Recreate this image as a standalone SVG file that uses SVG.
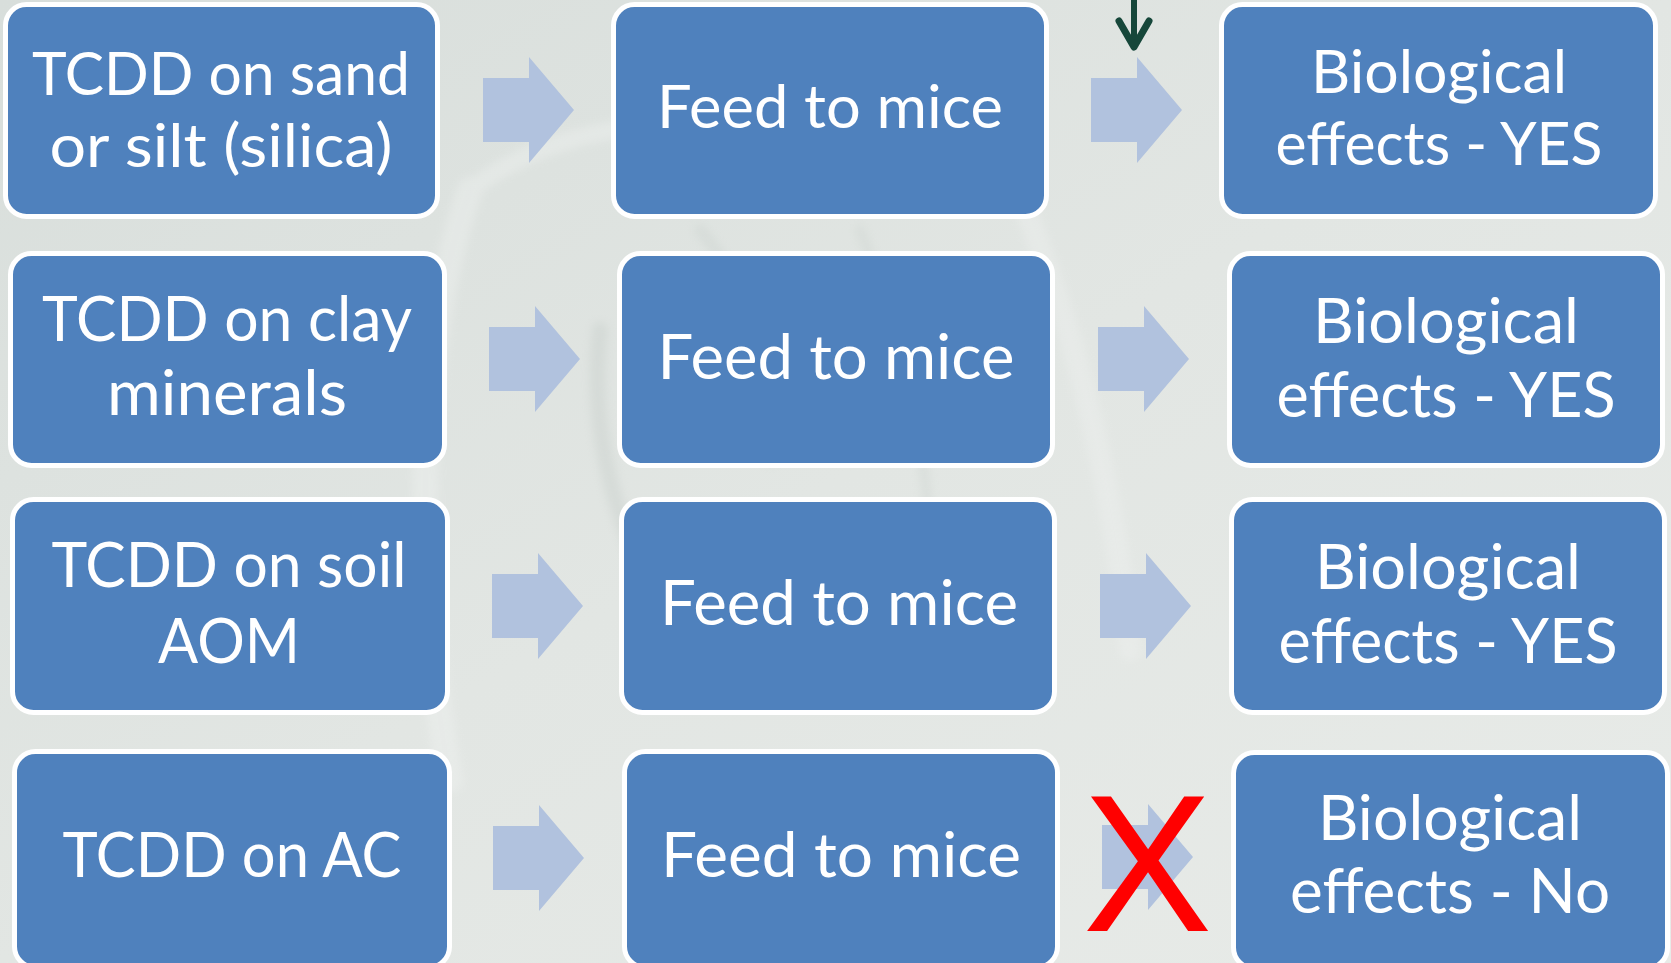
<svg xmlns="http://www.w3.org/2000/svg" xmlns:xlink="http://www.w3.org/1999/xlink" width="1671" height="963" viewBox="0 0 1671 963">
<defs>
<linearGradient id="bg" x1="0" y1="0" x2="1" y2="1">
<stop offset="0" stop-color="#d8dedb"/>
<stop offset="0.5" stop-color="#e2e6e3"/>
<stop offset="1" stop-color="#e8ebe8"/>
</linearGradient>
<filter id="soft" x="-10%" y="-10%" width="120%" height="120%"><feGaussianBlur stdDeviation="4"/></filter>
<path id="blk" d="M0,-32 H46 V-53 L91,0 L46,53 V32 H0 Z"/>
<style>
.box{fill:#4f81bd;stroke:#ffffff;stroke-width:5}
.t{font-family:Lato,"Liberation Sans",sans-serif;fill:#ffffff;text-anchor:middle}
.r1{font-size:60px}
.r2{font-size:61px}
.arr{fill:#b1c2de}
.wm{fill:none;stroke-linecap:round}
</style>
</defs>
<rect x="0" y="0" width="1671" height="963" fill="url(#bg)"/>
<g id="watermark" opacity="0.35" filter="url(#soft)">
<path class="wm" d="M470,190 C420,330 410,560 450,780" stroke="#f2f4f3" stroke-width="26"/>
<path class="wm" d="M470,190 C560,120 700,110 800,140" stroke="#f2f4f3" stroke-width="18"/>
<path class="wm" d="M600,330 C590,420 610,520 660,600" stroke="#c3cac6" stroke-width="16"/>
<path class="wm" d="M700,230 C760,300 780,380 770,460" stroke="#c9d0cc" stroke-width="12"/>
<path class="wm" d="M1000,150 C1060,280 1110,450 1130,650" stroke="#f0f2f1" stroke-width="22"/>
<path class="wm" d="M860,230 C900,330 930,450 930,560" stroke="#cad1cd" stroke-width="10"/>
<path class="wm" d="M1080,0 L1170,10 L1130,240 L1060,230 Z" stroke="none" fill="#f1f3f2"/>
</g>
<g id="connectors">
<use href="#blk" class="arr" x="483" y="110"/>
<use href="#blk" class="arr" x="1091" y="110"/>
<use href="#blk" class="arr" x="489" y="359"/>
<use href="#blk" class="arr" x="1098" y="359"/>
<use href="#blk" class="arr" x="492" y="606"/>
<use href="#blk" class="arr" x="1100" y="606"/>
<use href="#blk" class="arr" x="493" y="858"/>
<use href="#blk" class="arr" x="1102" y="857"/>
</g>
<g id="pointer">
<line x1="1134" y1="-4" x2="1134" y2="44" stroke="#16473a" stroke-width="6"/>
<polyline points="1119,21 1134,47 1149,21" fill="none" stroke="#16473a" stroke-width="7" stroke-linecap="round" stroke-linejoin="round"/>
</g>
<g id="n-a1">
<rect class="box" x="5.5" y="4.5" width="432" height="212" rx="21"/>
<text class="t r1" x="221" y="95" textLength="378" lengthAdjust="spacingAndGlyphs">TCDD on sand</text>
<text class="t r1" x="221" y="167" textLength="343" lengthAdjust="spacingAndGlyphs">or silt (silica)</text>
</g>
<g id="n-b1">
<rect class="box" x="613.5" y="4.5" width="433" height="212" rx="21"/>
<text class="t r1" x="830" y="128" textLength="346" lengthAdjust="spacingAndGlyphs">Feed to mice</text>
</g>
<g id="n-c1">
<rect class="box" x="1221.5" y="4.5" width="434" height="212" rx="21"/>
<text class="t r1" x="1439" y="93" textLength="256" lengthAdjust="spacingAndGlyphs">Biological</text>
<text class="t r1" x="1439" y="165" textLength="327" lengthAdjust="spacingAndGlyphs">effects - YES</text>
</g>
<g id="n-a2">
<rect class="box" x="10.5" y="253.5" width="434" height="212" rx="21"/>
<text class="t r2" x="227" y="341" textLength="370" lengthAdjust="spacingAndGlyphs">TCDD on clay</text>
<text class="t r2" x="227" y="415" textLength="240" lengthAdjust="spacingAndGlyphs">minerals</text>
</g>
<g id="n-b2">
<rect class="box" x="619.5" y="253.5" width="433" height="212" rx="21"/>
<text class="t r2" x="836" y="379" textLength="357" lengthAdjust="spacingAndGlyphs">Feed to mice</text>
</g>
<g id="n-c2">
<rect class="box" x="1229.5" y="253.5" width="433" height="212" rx="21"/>
<text class="t r2" x="1446" y="343" textLength="266" lengthAdjust="spacingAndGlyphs">Biological</text>
<text class="t r2" x="1446" y="417" textLength="339" lengthAdjust="spacingAndGlyphs">effects - YES</text>
</g>
<g id="n-a3">
<rect class="box" x="12.5" y="499.5" width="435" height="213" rx="21"/>
<text class="t r2" x="229" y="587" textLength="355" lengthAdjust="spacingAndGlyphs">TCDD on soil</text>
<text class="t r2" x="229" y="663" textLength="142" lengthAdjust="spacingAndGlyphs">AOM</text>
</g>
<g id="n-b3">
<rect class="box" x="621.5" y="499.5" width="433" height="213" rx="21"/>
<text class="t r2" x="839" y="625" textLength="358" lengthAdjust="spacingAndGlyphs">Feed to mice</text>
</g>
<g id="n-c3">
<rect class="box" x="1231.5" y="499.5" width="433" height="213" rx="21"/>
<text class="t r2" x="1448" y="589" textLength="266" lengthAdjust="spacingAndGlyphs">Biological</text>
<text class="t r2" x="1448" y="663" textLength="339" lengthAdjust="spacingAndGlyphs">effects - YES</text>
</g>
<g id="n-a4">
<rect class="box" x="14.5" y="751.5" width="435" height="216" rx="21"/>
<text class="t r2" x="232" y="877" textLength="339" lengthAdjust="spacingAndGlyphs">TCDD on AC</text>
</g>
<g id="n-b4">
<rect class="box" x="624.5" y="751.5" width="433" height="216" rx="21"/>
<text class="t r2" x="841" y="877" textLength="360" lengthAdjust="spacingAndGlyphs">Feed to mice</text>
</g>
<g id="n-c4">
<rect class="box" x="1233.5" y="752.5" width="434" height="216" rx="21"/>
<text class="t r2" x="1450" y="840" textLength="264" lengthAdjust="spacingAndGlyphs">Biological</text>
<text class="t r2" x="1450" y="913" textLength="320" lengthAdjust="spacingAndGlyphs">effects - No</text>
</g>
<g id="cross">
<text x="1147.5" y="931" font-family="Liberation Sans, Arial, sans-serif" font-size="194" fill="#ff0000" text-anchor="middle">X</text>
</g>
</svg>
